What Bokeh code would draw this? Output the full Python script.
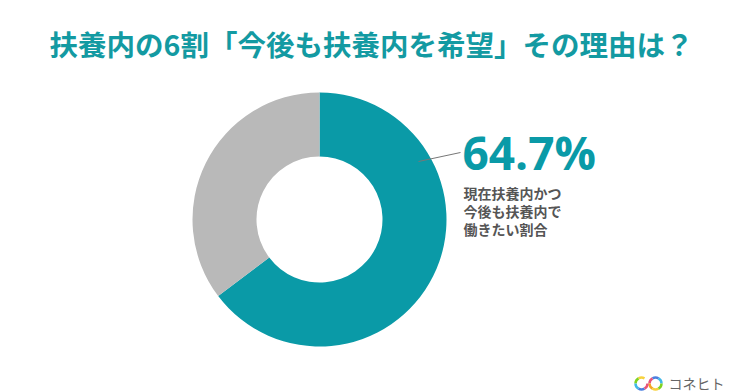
import numpy as np
from bokeh.plotting import figure
from bokeh.models import Label, Range1d
from bokeh.embed import file_html
from bokeh.resources import INLINE

# ---- data ----
categories = ["現在扶養内かつ今後も扶養内で働きたい", "その他"]
values = [64.7, 35.3]
colors = ["#0A9AA7", "#B9B9B9"]
title_text = "扶養内の6割「今後も扶養内を希望」その理由は？"
callout_lines = ["現在扶養内かつ", "今後も扶養内で", "働きたい割合"]
brand = "コネヒト"

W, H = 746, 392
p = figure(width=W, height=H, x_range=Range1d(0, W), y_range=Range1d(0, H),
           output_backend="svg", toolbar_location=None, min_border=0)
p.axis.visible = False
p.grid.visible = False
p.outline_line_color = None
p.background_fill_color = "white"
p.border_fill_color = "white"

# donut
cx, cy = 319, H - 219
frac = np.array(values) / sum(values)
cum = np.concatenate([[0], np.cumsum(frac)])
start = np.pi / 2 - cum[:-1] * 2 * np.pi
end = np.pi / 2 - cum[1:] * 2 * np.pi
p.annular_wedge(x=cx, y=cy, inner_radius=63, outer_radius=127,
                start_angle=start, end_angle=end, direction="clock",
                fill_color=colors, line_color=None)

# title
p.add_layout(Label(x=371, y=H - 43, text=title_text, text_align="center",
                   text_baseline="middle", text_font="Noto Sans CJK JP",
                   text_font_style="bold", text_font_size="28.5px",
                   text_color="#139AA2"))

# leader line and callout
p.line([418, 460], [H - 161, H - 152], line_color="#777777", line_width=1)
p.add_layout(Label(x=462, y=H - 151, text=f"{values[0]}%", text_align="left",
                   text_baseline="middle", text_font="Open Sans",
                   text_font_style="bold", text_font_size="46px",
                   text_color="#0A9AA7"))
for i, line in enumerate(callout_lines):
    p.add_layout(Label(x=463, y=H - (192 + 18 * i), text=line, text_align="left",
                       text_baseline="middle", text_font="Noto Sans CJK JP",
                       text_font_style="bold", text_font_size="14px",
                       text_color="#555555"))

# brand logo
ring_colors = ["#F5A623", "#F7D23E", "#7ED321", "#3FB8E8", "#4A7FE0", "#E8537A"]
n = len(ring_colors)
for k, c in enumerate(ring_colors):
    a0 = 2 * np.pi * k / n
    a1 = 2 * np.pi * (k + 1) / n
    if k != 0:
        p.arc(x=641, y=H - 383, radius=6, start_angle=a0, end_angle=a1,
              line_color=c, line_width=2.5)
    p.arc(x=655, y=H - 383, radius=6, start_angle=a0, end_angle=a1,
          line_color=ring_colors[(k + 3) % n], line_width=2.5)
p.add_layout(Label(x=668, y=H - 382, text=brand, text_align="left",
                   text_baseline="middle", text_font="Noto Sans CJK JP",
                   text_font_size="14px", text_color="#666666"))

open("out.html", "w").write(file_html(p, INLINE))
